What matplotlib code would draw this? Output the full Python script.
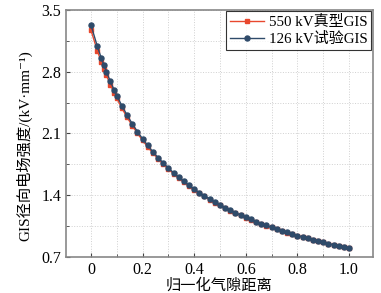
import matplotlib
matplotlib.use("Agg")
import matplotlib.pyplot as plt
from matplotlib.ticker import MultipleLocator

plt.rcParams['font.family'] = ['Liberation Serif', 'Noto Sans CJK SC', 'DejaVu Serif']

x = [0, 0.025, 0.04, 0.05, 0.06, 0.075, 0.09, 0.10, 0.12, 0.14, 0.16, 0.18, 0.20,
     0.22, 0.24, 0.26, 0.28, 0.30, 0.32, 0.34, 0.36, 0.38, 0.40, 0.42, 0.44, 0.46,
     0.48, 0.50, 0.52, 0.54, 0.56, 0.58, 0.60, 0.62, 0.64, 0.66, 0.68, 0.70, 0.72,
     0.74, 0.76, 0.78, 0.80, 0.82, 0.84, 0.86, 0.88, 0.90, 0.92, 0.94, 0.96, 0.98, 1.00]

e550 = [3.270, 3.036, 2.911, 2.833, 2.759, 2.655, 2.559, 2.499, 2.386, 2.283, 2.189,
        2.102, 2.022, 1.947, 1.878, 1.814, 1.754, 1.698, 1.645, 1.595, 1.549, 1.505,
        1.463, 1.424, 1.386, 1.351, 1.317, 1.285, 1.255, 1.226, 1.198, 1.172, 1.146,
        1.122, 1.099, 1.076, 1.055, 1.034, 1.015, 0.996, 0.977, 0.959, 0.942, 0.926,
        0.910, 0.895, 0.880, 0.865, 0.851, 0.838, 0.825, 0.812, 0.800]

e126 = [3.330, 3.086, 2.956, 2.875, 2.799, 2.692, 2.592, 2.530, 2.414, 2.308, 2.211,
        2.122, 2.040, 1.964, 1.893, 1.827, 1.766, 1.709, 1.655, 1.605, 1.557, 1.512,
        1.470, 1.430, 1.392, 1.357, 1.322, 1.290, 1.259, 1.230, 1.202, 1.175, 1.149,
        1.125, 1.101, 1.079, 1.057, 1.036, 1.016, 0.997, 0.978, 0.961, 0.943, 0.927,
        0.911, 0.895, 0.880, 0.866, 0.852, 0.838, 0.825, 0.812, 0.800]

xticks = [0, 0.2, 0.4, 0.6, 0.8, 1.0]
xticklabels = ['0', '0.2', '0.4', '0.6', '0.8', '1.0']
yticks = [0.7, 1.4, 2.1, 2.8, 3.5]

fig = plt.figure(figsize=(3.81, 2.93), dpi=100)
ax = fig.add_axes([0.173, 0.123, 0.806, 0.843])

ax.plot(x, e550, color='#E8482E', marker='s', markersize=3, linewidth=1.0,
        label='550 kV真型GIS', zorder=3)
ax.plot(x, e126, color='#2F4B6A', marker='o', markersize=3.6, linewidth=1.0,
        label='126 kV试验GIS', zorder=4)

ax.set_xlim(-0.097, 1.093)
ax.set_ylim(0.7, 3.5)
ax.set_xticks(xticks)
ax.set_xticklabels(xticklabels)
ax.set_yticks(yticks)
ax.xaxis.set_minor_locator(MultipleLocator(0.1))
ax.yaxis.set_minor_locator(MultipleLocator(0.35))
ax.tick_params(which='both', direction='in', labelsize=11.5, color='#444444')
ax.tick_params(which='major', length=3)
ax.tick_params(which='minor', length=2)
ax.grid(which='both', linestyle=':', color='#d0d0d0', linewidth=0.7)
for s in ax.spines.values():
    s.set_color('#888888')
    s.set_linewidth(1.2)

ax.set_xlabel('归一化气隙距离', fontsize=11, labelpad=0)
ax.set_ylabel('GIS径向电场强度/(kV·mm⁻¹)', fontsize=11)
ax.yaxis.set_label_coords(-0.11, 0.45)

leg = ax.legend(loc='upper right', fontsize=10.8, frameon=True, fancybox=False,
                edgecolor='black', borderpad=0.25, handlelength=2.3,
                borderaxespad=0.1, labelspacing=0.2, handletextpad=0.3)
leg.get_frame().set_linewidth(0.8)

fig.savefig('out.png', dpi=100)
